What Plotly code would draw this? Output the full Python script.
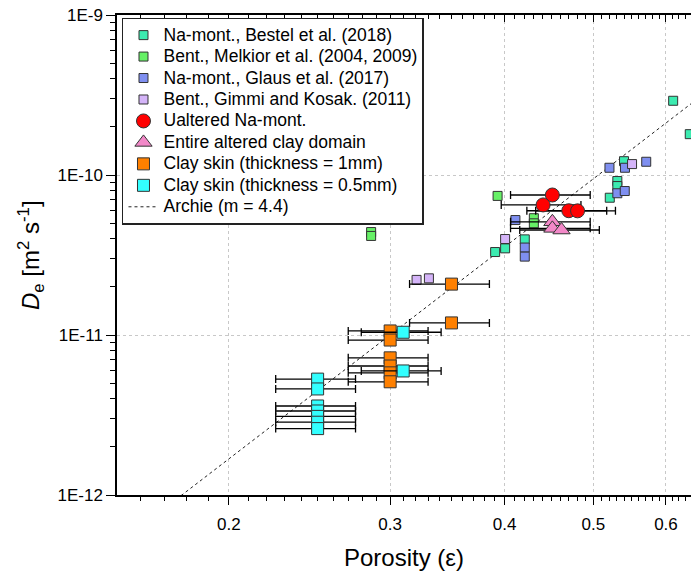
import numpy as np
import plotly.graph_objects as go

# ---------------- data ----------------
bestel_por = [0.611, 0.637, 0.540, 0.531, 0.531, 0.521, 0.4005, 0.3906, 0.4208]
bestel_de = [2.91e-10, 1.80e-10, 1.22e-10, 9.17e-11, 8.53e-11, 7.21e-11, 3.48e-11, 3.30e-11, 3.96e-11]

melkior_por = [0.286, 0.286, 0.393, 0.4305, 0.4305]
melkior_de = [4.40e-11, 4.16e-11, 7.40e-11, 5.37e-11, 4.99e-11]

glaus_por = [0.5206, 0.5413, 0.571, 0.531, 0.541, 0.411, 0.4208, 0.4208]
glaus_de = [1.11e-10, 1.11e-10, 1.21e-10, 7.69e-11, 7.94e-11, 5.23e-11, 3.52e-11, 3.09e-11]

gimmi_por = [0.551, 0.4005, 0.3206, 0.3307]
gimmi_de = [1.17e-10, 3.98e-11, 2.21e-11, 2.26e-11]

unalt_por = [0.451, 0.4406, 0.470, 0.4805]
unalt_de = [7.50e-11, 6.50e-11, 5.98e-11, 5.97e-11]
unalt_err = [0.045, 0.044, 0.047, 0.048]

altered_por = [0.451, 0.451, 0.4615]
altered_de = [5.10e-11, 4.64e-11, 4.53e-11]
altered_err = [0.045, 0.045, 0.046]

skin1_por = [0.35, 0.35, 0.30, 0.30, 0.30, 0.30, 0.30, 0.30]
skin1_de = [2.08e-11, 1.19e-11, 1.06e-11, 9.3e-12, 7.2e-12, 6.4e-12, 5.8e-12, 5.1e-12]
skin1_err = [0.035, 0.035, 0.03, 0.03, 0.03, 0.03, 0.03, 0.03]

skin05_por = [0.31, 0.31, 0.25, 0.25, 0.25, 0.25, 0.25, 0.25, 0.25]
skin05_de = [1.04e-11, 5.96e-12, 5.3e-12, 4.6e-12, 3.6e-12, 3.35e-12, 3.1e-12, 2.85e-12, 2.6e-12]
skin05_err = [0.031, 0.031, 0.025, 0.025, 0.025, 0.025, 0.025, 0.025, 0.025]

archie_m = 4.4
archie_d0 = 2.0e-9
archie_por = [0.15, 0.70]

x_ticks = [0.2, 0.3, 0.4, 0.5, 0.6]
x_ticktext = ["0.2", "0.3", "0.4", "0.5", "0.6"]
x_minor = [round(0.15 + 0.01 * i, 2) for i in range(50)]
y_ticks = [1e-12, 1e-11, 1e-10, 1e-9]
y_ticktext = ["1E-12", "1E-11", "1E-10", "1E-9"]
y_minor = [k * 10.0 ** e for e in (-12, -11, -10) for k in range(2, 10)]

# ---------------- figure ----------------
FONT = "Liberation Sans, Arial, sans-serif"
EDGE = "#333333"
fig = go.Figure()


def lg(name):
    return '<span style="font-size:17.5px">' + name + '</span>'


archie_de = [archie_d0 * p ** archie_m for p in archie_por]
fig.add_trace(go.Scatter(x=archie_por, y=archie_de, mode="lines", name=lg("Archie (m = 4.4)"),
                         line=dict(color="#222222", width=1, dash="3px,3px"), legendrank=9))


def err(arr):
    return dict(type="data", array=arr, symmetric=True, color="black", thickness=1.3, width=4)


def sq(x, y, name, color, size, rank):
    fig.add_trace(go.Scatter(x=x, y=y, mode="markers", name=lg(name), legendrank=rank,
                             marker=dict(symbol="square", size=size, color=color,
                                         line=dict(color=EDGE, width=1))))


sq(bestel_por, bestel_de, "Na-mont., Bestel et al. (2018)", "#3CEBB0", 9, 1)
sq(melkior_por, melkior_de, "Bent., Melkior et al. (2004, 2009)", "#66F066", 9, 2)
sq(glaus_por, glaus_de, "Na-mont., Glaus et al. (2017)", "#7F8FF0", 9, 3)
sq(gimmi_por, gimmi_de, "Bent., Gimmi and Kosak. (2011)", "#D4B4F8", 9, 4)

fig.add_trace(go.Scatter(x=unalt_por, y=unalt_de, mode="markers", name=lg("Ualtered Na-mont."),
                         legendrank=5, error_x=err(unalt_err),
                         marker=dict(symbol="circle", size=14, color="#FF0000",
                                     line=dict(color=EDGE, width=1))))
fig.add_trace(go.Scatter(x=altered_por, y=altered_de, mode="markers", name=lg("Entire altered clay domain"),
                         legendrank=6, error_x=err(altered_err),
                         marker=dict(symbol="triangle-up", size=15, color="#F288C8",
                                     line=dict(color=EDGE, width=1))))
fig.add_trace(go.Scatter(x=skin1_por, y=skin1_de, mode="markers", name=lg("Clay skin (thickness = 1mm)"),
                         legendrank=7, error_x=err(skin1_err),
                         marker=dict(symbol="square", size=12, color="#FF8000",
                                     line=dict(color=EDGE, width=1))))
fig.add_trace(go.Scatter(x=skin05_por, y=skin05_de, mode="markers", name=lg("Clay skin (thickness = 0.5mm)"),
                         legendrank=8, error_x=err(skin05_err),
                         marker=dict(symbol="square", size=12, color="#33FFFF",
                                     line=dict(color=EDGE, width=1))))

# dummy trace for top axis
fig.add_trace(go.Scatter(x=archie_por, y=archie_de, xaxis="x2", mode="lines", showlegend=False,
                         hoverinfo="skip", line=dict(color="rgba(0,0,0,0)", width=0)))

xr = [np.log10(0.151), np.log10(0.639)]
common_x = dict(type="log", range=xr, tickmode="array", tickvals=x_ticks, ticktext=x_ticktext,
                showline=True, linecolor="black", linewidth=1.5, tickcolor="black", tickwidth=1.3,
                zeroline=False, tickfont=dict(family=FONT, size=17, color="black"))
fig.update_layout(
    width=691, height=575,
    margin=dict(l=117, r=0, t=15, b=80),
    paper_bgcolor="white", plot_bgcolor="white",
    xaxis=dict(**common_x, ticks="outside", ticklen=8, ticklabelstandoff=5,
               showgrid=True, gridcolor="#C8C8C8", gridwidth=1, griddash="3px,3px",
               minor=dict(tickmode="array", tickvals=x_minor, ticks="outside", ticklen=4,
                          tickwidth=1, tickcolor="black", showgrid=False)),
    xaxis2=dict(**common_x, overlaying="x", side="top", anchor="y", ticks="inside", ticklen=7,
                showticklabels=False, showgrid=False,
                minor=dict(tickmode="array", tickvals=x_minor, ticks="inside", ticklen=4,
                           tickwidth=1, tickcolor="black", showgrid=False)),
    yaxis=dict(type="log", range=[-12, -9], tickmode="array", tickvals=y_ticks, ticktext=y_ticktext,
               ticks="outside", ticklen=9, tickwidth=1.3, tickcolor="black",
               showline=True, linecolor="black", linewidth=1.5, zeroline=False,
               showgrid=True, gridcolor="#C8C8C8", gridwidth=1, griddash="3px,3px",
               tickfont=dict(family=FONT, size=17, color="black"),
               minor=dict(tickmode="array", tickvals=y_minor, ticks="outside", ticklen=5,
                          tickwidth=1, tickcolor="black", showgrid=False)),
    legend=dict(x=0.0087, y=0.994, xanchor="left", yanchor="top", bgcolor="white",
                bordercolor="#222222", borderwidth=1.5, tracegroupgap=0,
                font=dict(family=FONT, size=14.2, color="black")),
    showlegend=True,
    annotations=[
        dict(text="<i>D</i><sub>e</sub> [m<sup>2</sup> s<sup>-1</sup>]", xref="paper", yref="paper",
             x=-0.1498, y=0.5, xanchor="center", yanchor="middle", textangle=-90, showarrow=False,
             font=dict(family=FONT, size=24, color="black")),
        dict(text="Porosity (ε)", xref="paper", yref="paper", x=0.5, y=-0.131,
             xanchor="center", yanchor="middle", showarrow=False,
             font=dict(family=FONT, size=24, color="black")),
    ],
)

fig.write_html("out.html", config={"displayModeBar": False},
               post_script="document.body.style.margin='0';")
